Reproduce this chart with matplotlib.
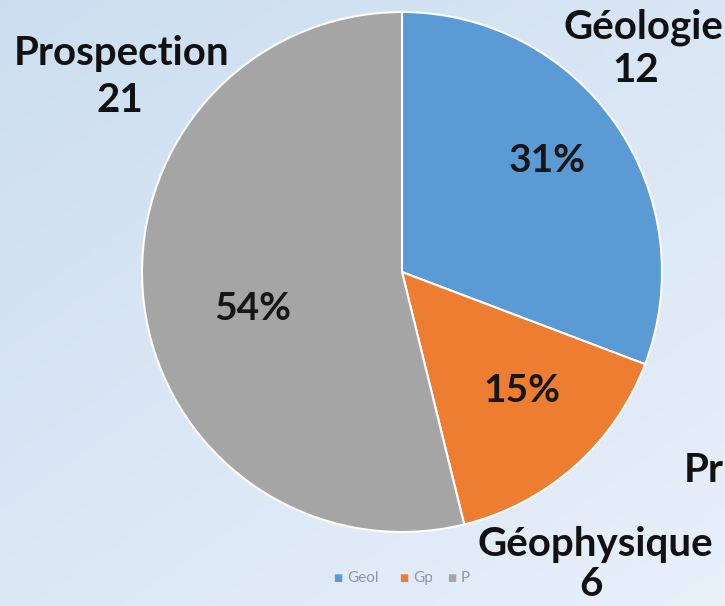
import numpy as np
import matplotlib
matplotlib.use('Agg')
import matplotlib.pyplot as plt

# data
categories = ['Géologie', 'Géophysique', 'Prospection']
short_names = ['Geol', 'Gp', 'P']
counts = [12, 6, 21]
colors = ['#5b9bd5', '#ed7d31', '#a5a5a5']

W, H = 725, 606
plt.rcParams['font.family'] = ['Lato', 'DejaVu Sans']

fig = plt.figure(figsize=(W / 100, H / 100), dpi=100)

# background gradient
bg = fig.add_axes([0, 0, 1, 1])
yy, xx = np.mgrid[0:1:200j, 0:1:200j]
t = 0.55 * yy + 0.45 * xx
c0 = np.array([0.80, 0.87, 0.94])
c1 = np.array([0.91, 0.94, 0.98])
img = c0[None, None, :] * (1 - t[..., None]) + c1[None, None, :] * t[..., None]
bg.imshow(img, aspect='auto', extent=[0, 1, 0, 1])
bg.axis('off')

# pie axes: center (402, 272) px, radius 260 px
cx, cy, r = 402, 272, 260
ax = fig.add_axes([(cx - r) / W, (H - cy - r) / H, 2 * r / W, 2 * r / H])
wedges, _, pcts = ax.pie(counts, colors=colors, startangle=90, counterclock=False,
                         autopct=lambda p: f'{p:.0f}%', pctdistance=0.66,
                         wedgeprops=dict(edgecolor='white', linewidth=1.5),
                         textprops=dict(fontsize=28, fontweight='bold', color='#161616'))
# label spots as placed in the original
pct_spots = [(547, 161), (522, 391), (253, 308)]
for txt, (x, y) in zip(pcts, pct_spots):
    txt.set_position(((x - cx) / r, (cy - y) / r))
ax.set_xlim(-1, 1)
ax.set_ylim(-1, 1)
ax.axis('off')

def px(x, y):
    return x / W, 1 - y / H

# outside labels: (name x, name baseline, number x, number baseline)
label_pos = {'Géologie': (643, 38, 636, 82),
             'Géophysique': (595, 556, 591, 596),
             'Prospection': (122, 65, 120, 112)}
for name, n in zip(categories, counts):
    x1, y1, x2, y2 = label_pos[name]
    fig.text(*px(x1, y1), name, ha='center', va='baseline', fontsize=29,
             fontweight='bold', color='#111111')
    fig.text(*px(x2, y2), str(n), ha='center', va='baseline', fontsize=29,
             fontweight='bold', color='#111111')

# label cut at the right edge in the original
fig.text(*px(724, 482), 'Pr', ha='right', va='baseline', fontsize=29,
         fontweight='bold', color='#111111')

# tiny legend
lx = 333
for name, col in zip(short_names, colors):
    fig.text(*px(lx, 578), '■', ha='left', va='center', fontsize=7, color=col)
    fig.text(*px(lx + 14, 578), name, ha='left', va='center', fontsize=11,
             color='#8a98a8')
    lx += 14 + len(name) * 9 + 16

fig.savefig('out.png', dpi=100)
